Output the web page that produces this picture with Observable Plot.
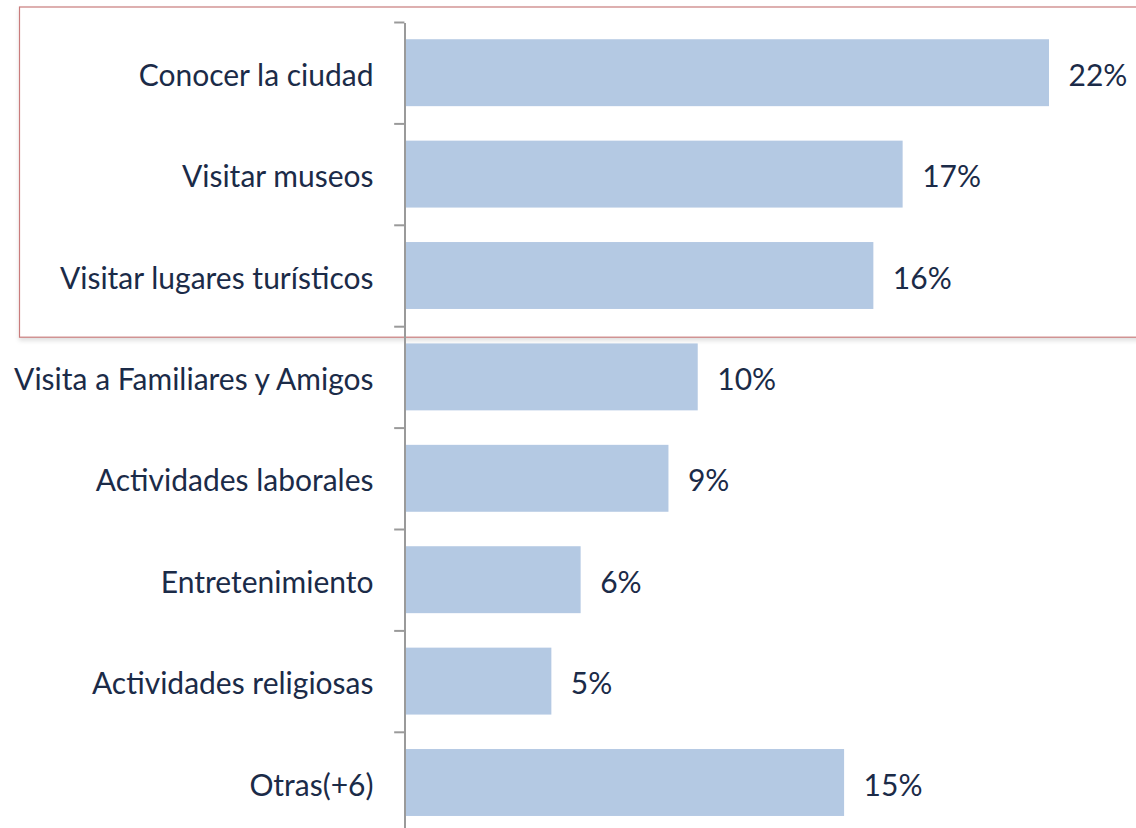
<!DOCTYPE html>
<html>
<head>
<meta charset="utf-8">
<script src="https://cdn.jsdelivr.net/npm/d3@7"></script>
<script src="https://cdn.jsdelivr.net/npm/@observablehq/plot@0.6"></script>
<style>
  html, body { margin: 0; padding: 0; background: #ffffff; }
  #chart svg { display: block; }
</style>
</head>
<body>
<div id="chart"></div>
<script>
const categories = [
  "Conocer la ciudad",
  "Visitar museos",
  "Visitar lugares turísticos",
  "Visita a Familiares y Amigos",
  "Actividades laborales",
  "Entretenimiento",
  "Actividades religiosas",
  "Otras(+6)"
];
const values = [22, 17, 16, 10, 9, 6, 5, 15];
const valueLabels = ["22%", "17%", "16%", "10%", "9%", "6%", "5%", "15%"];
const highlighted = ["Conocer la ciudad", "Visitar museos", "Visitar lugares turísticos"];

const data = categories.map((c, i) => ({category: c, value: values[i], label: valueLabels[i]}));

const W = 1136, H = 828;
const font = "Lato, 'Open Sans', sans-serif";
const textColor = "#1b2b48";
const bandTop = 22, step = 101.4;

const plot = Plot.plot({
  width: W,
  height: H,
  marginTop: 23,
  marginBottom: 0,
  marginLeft: 404,
  marginRight: 0,
  style: {fontFamily: font, background: "#ffffff", overflow: "visible"},
  x: {domain: [0, 22], range: [405, 1049], axis: null},
  y: {domain: categories, range: [bandTop, bandTop + step * categories.length], paddingInner: 0.34, paddingOuter: 0.17, round: false, label: null},
  marks: [
    Plot.barX(data, {x: "value", y: "category", fill: "#b4c9e3"}),
    Plot.ruleY(categories, {y: d => d, x1: -0.37, x2: -0.02, dy: -step / 2, stroke: "#9a9a9a", strokeWidth: 2}),
    Plot.ruleX([0], {dx: -0.5, stroke: "#9a9a9a", strokeWidth: 2}),
    Plot.axisY({tickSize: 0, tickPadding: 31, fontSize: 30, dy: 3, fill: textColor, label: null}),
    Plot.text(data, {x: "value", y: "category", text: "label", textAnchor: "start", dx: 19, dy: 3, fontSize: 30, fill: textColor})
  ]
});

document.getElementById("chart").appendChild(plot);

// Highlight box around the first three categories
const svg = d3.select(plot);
const defs = svg.insert("defs", ":first-child");
const f = defs.append("filter").attr("id", "shadow").attr("x", "-5%").attr("y", "-5%").attr("width", "110%").attr("height", "120%");
f.append("feDropShadow").attr("dx", 0).attr("dy", 3).attr("stdDeviation", 2).attr("flood-color", "#000").attr("flood-opacity", 0.12);
const y = plot.scale("y");
const yTop = y.apply(highlighted[0]) - y.step * 0.17 - 15;
const yBot = y.apply(highlighted[highlighted.length - 1]) + y.bandwidth + y.step * 0.17 + 11;
svg.insert("rect", ":nth-child(2)")
  .attr("x", 19.5)
  .attr("y", yTop)
  .attr("width", W + 10)
  .attr("height", yBot - yTop)
  .attr("fill", "#ffffff")
  .attr("stroke", "#c97c7c")
  .attr("stroke-width", 1.2)
  .attr("filter", "url(#shadow)");
</script>
</body>
</html>
